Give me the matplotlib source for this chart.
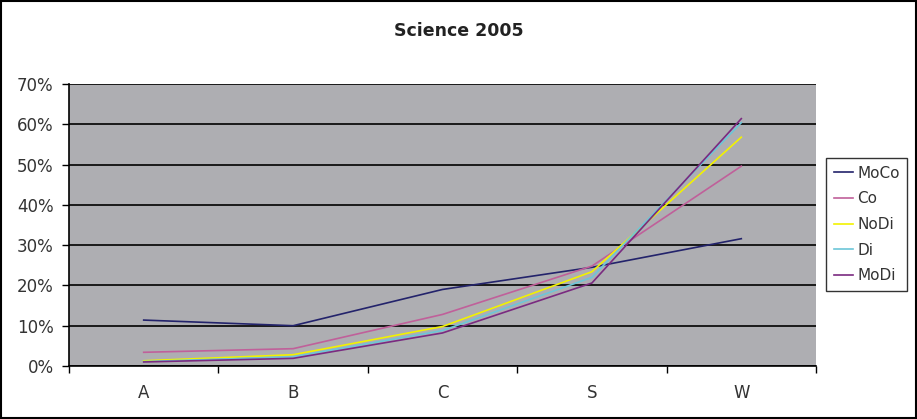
import matplotlib.pyplot as plt
from matplotlib.patches import Rectangle
from matplotlib.ticker import PercentFormatter

plt.rcParams['font.family'] = ['DejaVu Sans']

categories = ["A", "B", "C", "S", "W"]
moco = [11.4, 10.0, 19.0, 24.5, 31.6]
co = [3.4, 4.3, 12.8, 24.8, 49.6]
nodi = [1.3, 2.8, 9.8, 23.4, 56.8]
di = [1.1, 2.3, 8.8, 22.0, 60.4]
modi = [1.0, 1.9, 8.2, 20.6, 61.4]

series = {"MoCo": (moco, "#23236b"),
          "Co": (co, "#c0609a"),
          "NoDi": (nodi, "#f2f200"),
          "Di": (di, "#6cc6d8"),
          "MoDi": (modi, "#7a2a80")}

fig = plt.figure(figsize=(9.17, 4.19), dpi=100)
ax = fig.add_axes([69/917, 1-366/419, (816-69)/917, (366-84)/419])
ax.set_facecolor("#aeaeb2")

x = list(range(len(categories)))
for name in series:
    vals, col = series[name]
    ax.plot(x, vals, color=col, linewidth=1.2, label=name)

ax.set_xlim(-0.5, len(categories)-0.5)
ax.set_ylim(0, 70)
ax.set_yticks(range(0, 71, 10))
ax.yaxis.set_major_formatter(PercentFormatter(decimals=0))
ax.set_xticks(x)
ax.set_xticklabels(categories)
ax.set_xticks([i+0.5 for i in range(-1, len(categories))], minor=True)
ax.tick_params(axis="x", which="major", length=0, pad=13, labelsize=12, labelcolor="#333333")
ax.tick_params(axis="x", which="minor", length=5, direction="out", width=1)
ax.tick_params(axis="y", length=5, direction="out", width=1, labelsize=12, pad=6,
               labelcolor="#333333")
ax.grid(axis="y", color="black", linewidth=1.2)
ax.set_axisbelow(True)
for s in ["top", "right"]:
    ax.spines[s].set_visible(False)
ax.spines["left"].set_linewidth(1.2)
ax.spines["bottom"].set_linewidth(1.2)

leg = fig.legend(loc="upper left", bbox_to_anchor=(826/917, 1-158/419), fontsize=11,
                 frameon=True, fancybox=False, edgecolor="black", handlelength=1.25,
                 handletextpad=0.3, labelspacing=0.7, borderpad=0.5, borderaxespad=0)
leg.get_frame().set_linewidth(1.0)
for t in leg.get_texts():
    t.set_color("#333333")

fig.text(0.5, 1-31/419, "Science 2005", ha="center", va="center", fontsize=12.5,
         fontweight="bold", color="#222222")
fig.patches.append(Rectangle((0.001, 0.002), 0.998, 0.995, transform=fig.transFigure,
                             fill=False, edgecolor="black", linewidth=1.5))

plt.savefig("out.png", dpi=100)
plt.close()
